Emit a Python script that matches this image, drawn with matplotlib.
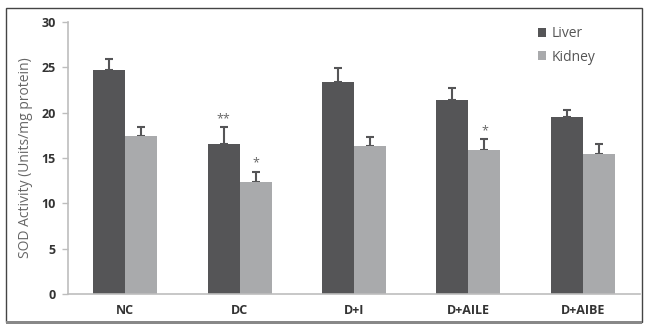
import numpy as np
import matplotlib
matplotlib.use('Agg')
import matplotlib.pyplot as plt
from matplotlib.patches import Rectangle

plt.rcParams['font.family'] = ['Open Sans', 'DejaVu Sans']

groups = ['NC', 'DC', 'D+I', 'D+AILE', 'D+AIBE']
liver = [24.7, 16.5, 23.4, 21.4, 19.55]
liver_err = [1.2, 1.9, 1.5, 1.3, 0.75]
kidney = [17.45, 12.4, 16.35, 15.9, 15.45]
kidney_err = [1.0, 1.1, 1.0, 1.15, 1.05]
liver_marks = ['', '**', '', '', '']
kidney_marks = ['', '*', '', '*', '']

dark = '#555557'
light = '#a9aaac'
axis_col = '#bdbdbd'

fig = plt.figure(figsize=(6.46, 3.24), dpi=100)
ax = fig.add_axes([68 / 646, 30 / 324, 572 / 646, 272 / 324])

x = np.arange(len(groups))
w = 0.28
ax.bar(x - w / 2, liver, w, color=dark, label='Liver', zorder=2)
ax.bar(x + w / 2, kidney, w, color=light, label='Kidney', zorder=2)
ax.errorbar(x - w / 2, liver, yerr=[np.zeros(len(liver)), liver_err], fmt='none',
            ecolor=dark, elinewidth=1.5, capsize=3, capthick=1.5, zorder=1)
ax.errorbar(x + w / 2, kidney, yerr=[np.zeros(len(kidney)), kidney_err], fmt='none',
            ecolor=dark, elinewidth=1.5, capsize=3, capthick=1.5, zorder=1)

for i in range(len(groups)):
    if liver_marks[i]:
        ax.text(x[i] - w / 2, liver[i] + liver_err[i] + 0.2, liver_marks[i],
                ha='center', va='bottom', fontsize=9, color='#666666')
    if kidney_marks[i]:
        ax.text(x[i] + w / 2, kidney[i] + kidney_err[i] + 0.2, kidney_marks[i],
                ha='center', va='bottom', fontsize=9, color='#666666')

ax.set_xlim(-0.5, len(groups) - 0.5)
ax.set_ylim(0, 30)
ax.set_yticks(range(0, 31, 5))
ax.set_xticks(x)
ax.set_xticklabels(groups, fontsize=9, fontweight='bold', color='#333333')
for lab in ax.get_yticklabels():
    lab.set_fontsize(9)
    lab.set_fontweight('bold')
    lab.set_color('#333333')
ax.tick_params(axis='x', length=0, pad=7)
ax.tick_params(axis='y', length=4, color=axis_col, width=1, pad=5)
for s in ['top', 'right']:
    ax.spines[s].set_visible(False)
for s in ['left', 'bottom']:
    ax.spines[s].set_color(axis_col)
    ax.spines[s].set_linewidth(1.2)
ax.set_ylabel('SOD Activity (Units/mg protein)', fontsize=10, color='#666666', labelpad=6)

ax.legend(loc='upper left', bbox_to_anchor=(0.8, 1.03), frameon=False, fontsize=10,
          handlelength=0.6, handleheight=0.6, handletextpad=0.4, labelspacing=0.6,
          labelcolor='#555555')

# outer frame
fig.patches.append(Rectangle((6 / 646, 2 / 324), 636 / 646, 314 / 324, transform=fig.transFigure,
                             fill=False, edgecolor='#444444', linewidth=1.0))
fig.patches.append(Rectangle((6 / 646, 0), 636 / 646, 3 / 324, transform=fig.transFigure,
                             facecolor='#888888', edgecolor='none'))

fig.savefig('out.png', dpi=100)
